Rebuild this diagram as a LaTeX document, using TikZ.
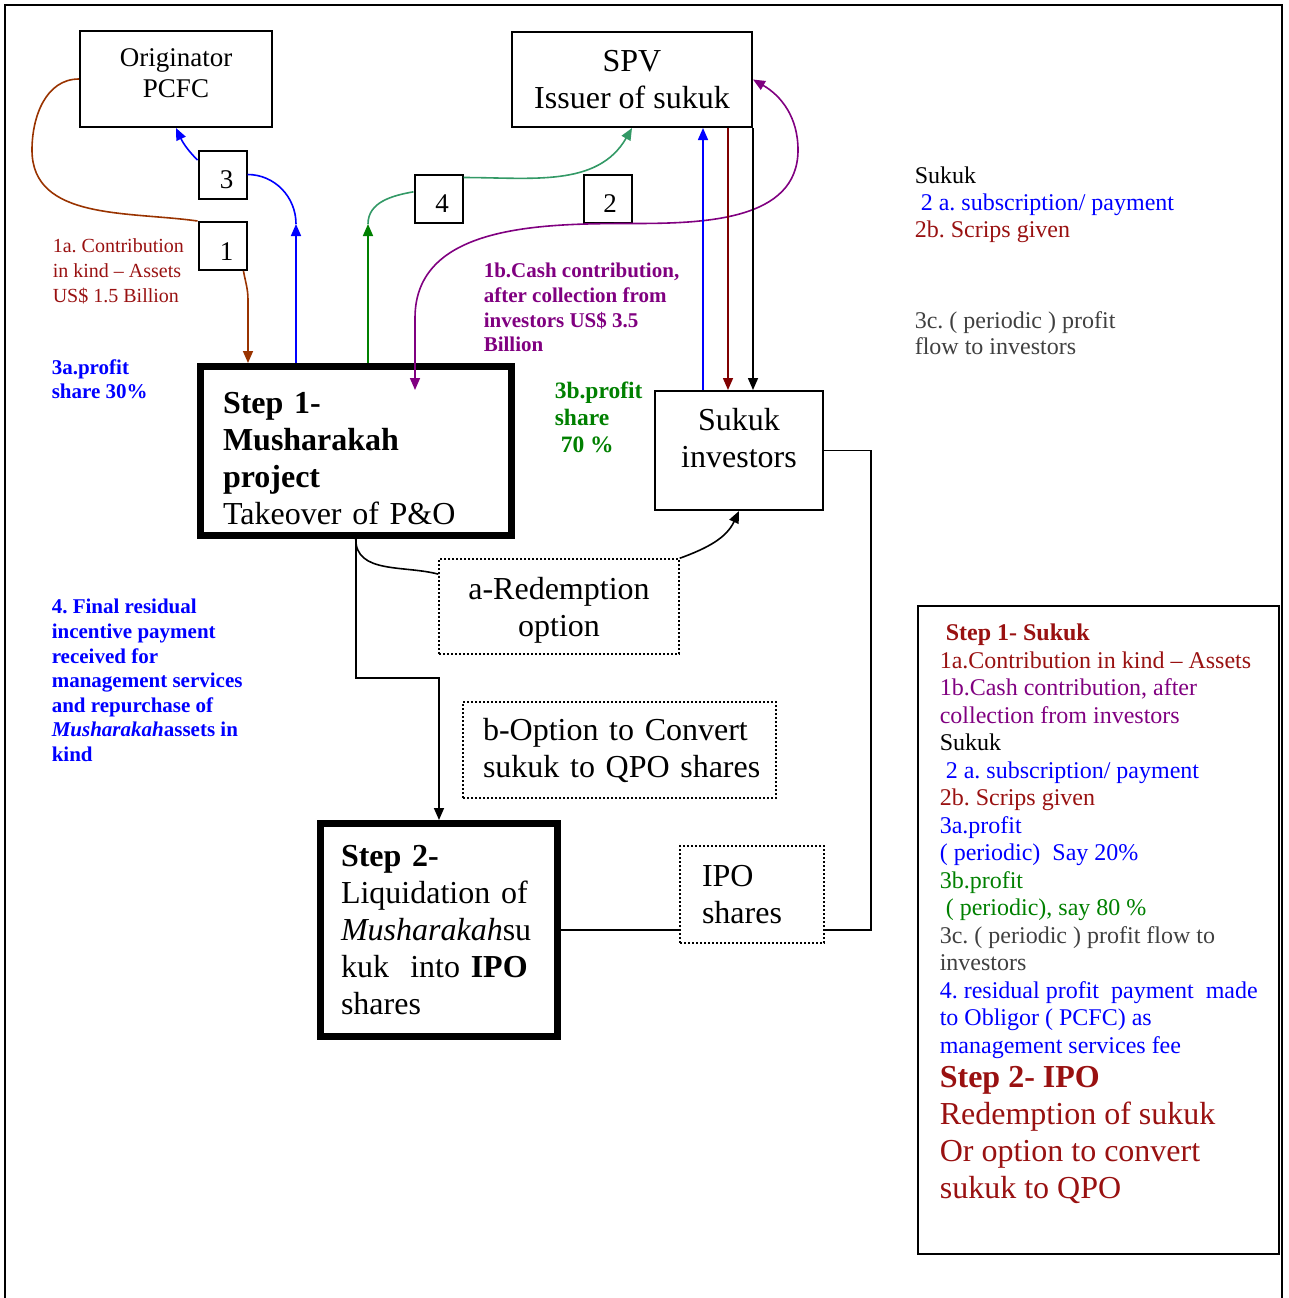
\documentclass[tikz,border=0pt]{standalone}
\usepackage{fontspec}
\setmainfont{Liberation Serif}
\usetikzlibrary{arrows.meta}
\frenchspacing

\definecolor{darkred}{RGB}{153,17,17}
\definecolor{brownline}{RGB}{153,51,0}
\definecolor{maroon}{RGB}{128,0,0}
\definecolor{seagreen}{RGB}{51,153,102}
\definecolor{darkgreen}{RGB}{0,128,0}
\definecolor{purp}{RGB}{128,0,128}
\definecolor{greytext}{RGB}{64,64,64}

\newcommand{\fbig}{\fontsize{32}{37}\selectfont}
\newcommand{\fmid}{\fontsize{27}{31}\selectfont}
\newcommand{\fsml}{\fontsize{24}{27.5}\selectfont}
\newcommand{\flab}{\fontsize{21}{24.6}\selectfont}

\begin{document}
\begin{tikzpicture} [x=1pt, y=-1pt, line width=1.6pt,
  >={Triangle[length=12pt, width=10pt]},
  box/.style={draw, line width=2pt, inner sep=0pt, align=center, font=\fbig},
  numbox/.style={draw, line width=2pt, inner sep=0pt, minimum size=48pt, text height=28pt, text depth=0pt, font=\fmid},
  thickbox/.style={draw, line width=7pt, inner sep=0pt, align=left, font=\fbig},
  dotbox/.style={draw, line width=1.5pt, dash pattern=on 2pt off 2pt, inner sep=0pt, font=\fbig},
  lab/.style={anchor=north west, inner sep=0pt, align=left},
  labbold/.style={lab, font=\bfseries\flab}]
\useasboundingbox (0, 0) rectangle (1288, 1298);
\draw (5, 1298) -- (5, 5) -- (1282, 5) -- (1282, 1298);

% boxes
\path (176, 79) node[box, font=\fmid, minimum width=192pt, minimum height=96pt, text depth=11pt] (orig) {Originator\\PCFC}
      (632, 79.5) node[box, minimum width=240pt, minimum height=95pt] (spv) {SPV\\Issuer of sukuk}
      (222.5, 174.5) node[numbox] (n3) {\hspace*{8pt}3}
      (222.5, 246) node[numbox] (n1) {\hspace*{8pt}1}
      (438.5, 198.5) node[numbox] (n4) {\hspace*{7pt}4}
      (607.5, 198.5) node[numbox] (n2) {\hspace*{5pt}2}
      (355.75, 451) node[thickbox, minimum width=310.5pt, minimum height=169pt, text width=265.5pt, text height=36pt] (step1)
        {\textbf{Step 1-}\\\textbf{Musharakah}\\\textbf{project}\\Takeover of P\&O}
      (739, 450.5) node[box, minimum width=168pt, minimum height=119pt, text depth=25pt] (invest) {Sukuk\\investors}
      (559, 606.5) node[dotbox, align=center, minimum width=240pt, minimum height=95pt, text depth=0pt] (redeem) {a-Redemption\\option}
      (619.5, 750) node[dotbox, align=left, minimum width=313pt, minimum height=96pt, text width=273pt] (convert)
        {\mbox{b-Option to Convert}\\\mbox{sukuk to QPO shares}}
      (439, 930) node[thickbox, minimum width=237pt, minimum height=213pt, text width=196pt] (step2)
        {\textbf{Step 2-}\\Liquidation of\\\textit{Musharakah}su\\kuk\ \ into \textbf{IPO}\\shares}
      (752, 894.5) node[dotbox, align=left, minimum width=144pt, minimum height=97pt, text width=100pt] (ipo) {IPO\\shares}
      (1098.5, 930) node[draw, line width=2pt, minimum width=361pt, minimum height=648pt] (legend) {};

% labels
\path (52, 238) node[lab, font=\fontsize{20}{25}\selectfont, text=darkred] (lab1a)
        {1a. Contribution\\in kind \textendash{} Assets\\US\$ 1.5 Billion}
      (51, 358.5) node[labbold, text=blue] (lab3a) {3a.profit\\share 30\%}
      (483, 262.5) node[labbold, text=purp] (lab1b)
        {1b.Cash contribution,\\after collection from\\investors US\$ 3.5\\Billion}
      (554, 381.5) node[lab, font=\bfseries\fontsize{23.5}{27}\selectfont, text=darkgreen] (lab3b)
        {3b.profit\\share\\\hspace*{6pt}70 \%}
      (914, 166.5) node[lab, font=\fontsize{24}{27}\selectfont] (labsukuk)
        {Sukuk\\\textcolor{blue}{\hspace*{6pt}2 a. subscription/ payment}\\\textcolor{darkred}{2b. Scrips given}}
      (914, 310.5) node[lab, font=\fontsize{24}{26.5}\selectfont, text=greytext] (lab3c)
        {3c. ( periodic ) profit\\flow to investors}
      (51, 598.5) node[labbold, text=blue] (lab4)
        {4. Final residual\\incentive payment\\received for\\management services\\and repurchase of\\\textit{Musharakah}assets in\\kind};

% legend text
\path (939, 623.5) node[lab, font=\fsml] (legtxt)
        {\textcolor{darkred}{\textbf{\hspace*{6pt}Step 1- Sukuk}}\\
         \textcolor{darkred}{1a.Contribution in kind \textendash{} Assets}\\
         \textcolor{purp}{1b.Cash contribution, after}\\
         \textcolor{purp}{collection from investors}\\
         Sukuk\\
         \textcolor{blue}{\hspace*{6pt}2 a. subscription/ payment}\\
         \textcolor{darkred}{2b. Scrips given}\\
         \textcolor{blue}{3a.profit}\\
         \textcolor{blue}{( periodic)\ \ Say 20\%}\\
         \textcolor{darkgreen}{3b.profit}\\
         \textcolor{darkgreen}{\hspace*{6pt}( periodic), say 80 \%}\\
         \textcolor{greytext}{3c. ( periodic ) profit flow to}\\
         \textcolor{greytext}{investors}\\
         \textcolor{blue}{4. residual profit\ \ payment\ \ made}\\
         \textcolor{blue}{to Obligor ( PCFC) as}\\
         \textcolor{blue}{management services fee}}
      (939, 1065) node[lab, font=\fbig, text=darkred] (legipo)
        {\textbf{Step 2- IPO}\\Redemption of sukuk\\Or option to convert\\sukuk to QPO};

% bends
\coordinate (brownbend) at (32, 150);
\coordinate (brownfoot) at (248, 300);
\coordinate (blueup) at (296, 224);
\coordinate (greenup) at (368, 224);
\coordinate (purpright) at (798, 150);
\coordinate (purpbend) at (415, 318);
\coordinate (purptip) at (415, 390);
\coordinate (subx) at (703, 260);
\coordinate (scripx) at (728, 260);
\coordinate (elbow) at (439, 678);
\coordinate (loopx) at (871, 450.5);

% 1a and 1b
\draw[brownline] (orig.west) to[out=180, in=90] (brownbend) to[out=-90, in=172] (n1.north west);
\draw[brownline, ->] (n1.-50) to[out=-80, in=90] (brownfoot) -- (brownfoot |- step1.north);
\draw[purp, <->] (spv.east) to[out=-30, in=90] (purpright) to[out=-90, in=0] (n2.south east)
  to[out=180, in=90] (purpbend) -- (purptip);
% 3a
\draw[blue, ->] (blueup |- step1.north) -- (blueup);
\draw[blue] (blueup) to[out=90, in=0] (n3.east);
\draw[blue, ->] (n3.150) to[out=135, in=-65] (orig.south);
% 4
\draw[darkgreen, ->] (greenup |- step1.north) -- (greenup);
\draw[seagreen] (greenup) to[out=90, in=190] (n4.165);
\draw[seagreen, ->] (n4.40) to[out=0, in=-120] (spv.south);
% 2a, 2b, 3c
\draw[blue, ->] (subx |- invest.north) -- (subx |- spv.south);
\draw[maroon, ->] (scripx |- spv.south) -- (scripx |- invest.north);
\draw[->] (spv.south east) -- (spv.south east |- invest.north);

% step 2
\draw (step1.south) to[out=-90, in=165] (redeem.165);
\draw[->] (redeem.north east) to[out=20, in=-115] (invest.south);
\draw[->] (step1.south) |- (elbow) -- (step2.north);
\draw (step2.east) -- (ipo.west |- step2.east);
\draw (ipo.east |- step2.east) -| (loopx) -- (invest.east);

\end{tikzpicture}
\end{document}
